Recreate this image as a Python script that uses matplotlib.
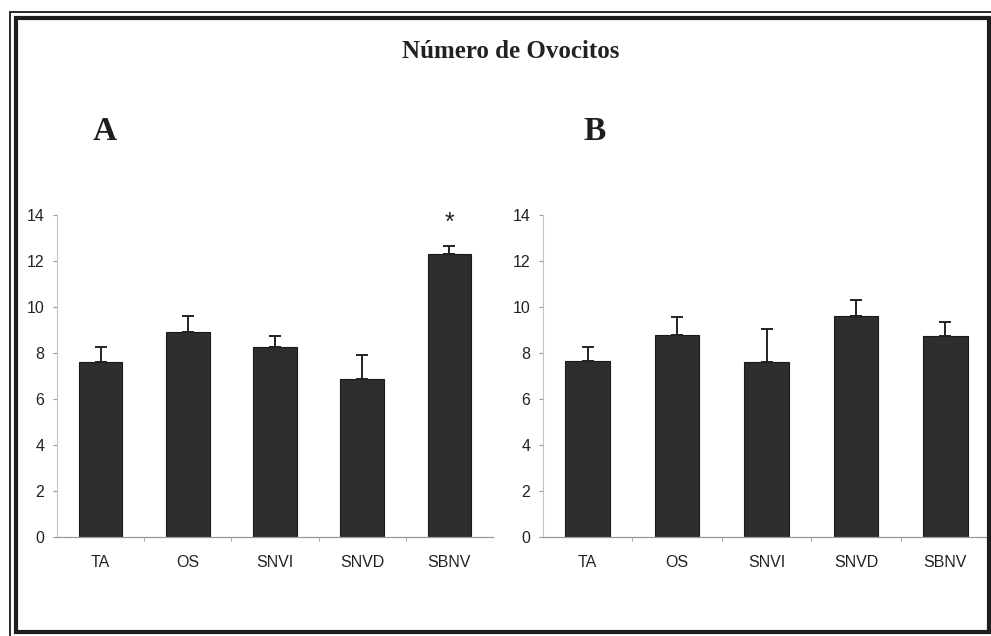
import matplotlib
matplotlib.use("Agg")
import matplotlib.pyplot as plt
from matplotlib.patches import Rectangle
import numpy as np

# Número de ovocitos por grupo, media y error estándar (solo hacia arriba)
grupos = ["TA", "OS", "SNVI", "SNVD", "SBNV"]

media_a = [7.6, 8.9, 8.25, 6.85, 12.3]
error_a = [0.65, 0.7, 0.5, 1.05, 0.35]

media_b = [7.65, 8.8, 7.6, 9.6, 8.75]
error_b = [0.6, 0.75, 1.45, 0.7, 0.6]

# grupo marcado con diferencia significativa en el panel A
signif_a = [4]

W, H = 991, 636
fig = plt.figure(figsize=(W / 100, H / 100), dpi=100)
fig.patch.set_facecolor("white")

sans = ["Liberation Sans", "DejaVu Sans"]
serif = ["Liberation Serif", "DejaVu Serif"]


def px_box(x0, y0, x1, y1):
    # caja en pixeles (origen arriba a la izquierda) -> coords de figura
    return [x0 / W, 1 - y1 / H, (x1 - x0) / W, (y1 - y0) / H]


def panel(ax, media, error, signif=()):
    x = np.arange(len(grupos))
    ax.bar(x, media, width=0.5, color="#2e2e2e", edgecolor="#1a1a1a",
           linewidth=0.8, zorder=2)
    ax.errorbar(x, media, yerr=[np.zeros(len(error)), error], fmt="none",
                ecolor="#222222", elinewidth=1.4, capsize=4, capthick=1.4,
                zorder=3)
    for i in signif:
        ax.text(x[i], media[i] + error[i] + 1.0, "*", ha="center",
                va="center", fontsize=18, family=sans, color="#222222")

    ax.set_xlim(-0.5, len(grupos) - 0.5)
    ax.set_ylim(0, 14)
    ax.set_yticks(range(0, 15, 2))
    ax.set_xticks(x)
    ax.set_xticklabels(grupos)
    ax.set_xticks(np.arange(0.5, len(grupos) - 0.5, 1), minor=True)

    for s in ["top", "right"]:
        ax.spines[s].set_visible(False)
    ax.spines["left"].set_color("#c4c4c4")
    ax.spines["left"].set_linewidth(0.8)
    ax.spines["bottom"].set_color("#9a9a9a")
    ax.spines["bottom"].set_linewidth(0.9)

    ax.tick_params(axis="y", length=3, width=0.8, color="#999999", pad=6,
                   labelsize=11.5, labelcolor="#222222")
    ax.tick_params(axis="x", which="major", length=0, pad=13,
                   labelsize=11.5, labelcolor="#222222")
    ax.tick_params(axis="x", which="minor", length=3, width=0.8,
                   color="#aaaaaa", direction="out")
    for lab in ax.get_xticklabels() + ax.get_yticklabels():
        lab.set_family(sans)
    ax.set_facecolor("none")


ax_a = fig.add_axes(px_box(57, 215, 493, 537))
panel(ax_a, media_a, error_a, signif_a)

ax_b = fig.add_axes(px_box(543, 215, 990, 537))
panel(ax_b, media_b, error_b)

# titulo y letras de panel
fig.text(511 / W, 1 - 52 / H, "Número de Ovocitos", ha="center", va="center",
         fontsize=18, fontweight="bold", family=serif, color="#222222")
fig.text(105 / W, 1 - 132 / H, "A", ha="center", va="center",
         fontsize=24, fontweight="bold", family=serif, color="#1e1e1e")
fig.text(595 / W, 1 - 132 / H, "B", ha="center", va="center",
         fontsize=24, fontweight="bold", family=serif, color="#1e1e1e")

# marco doble alrededor de la figura
fig.add_artist(Rectangle((10 / W, 1 - 645 / H), 1000 / W, 633 / H,
                         transform=fig.transFigure, fill=False,
                         edgecolor="#2a2a2a", linewidth=1.4))
fig.add_artist(Rectangle((15.5 / W, 1 - 631.5 / H), 973.5 / W, 614 / H,
                         transform=fig.transFigure, fill=False,
                         edgecolor="#1e1e1e", linewidth=3.0))

fig.savefig("out.png", dpi=100, facecolor="white")
